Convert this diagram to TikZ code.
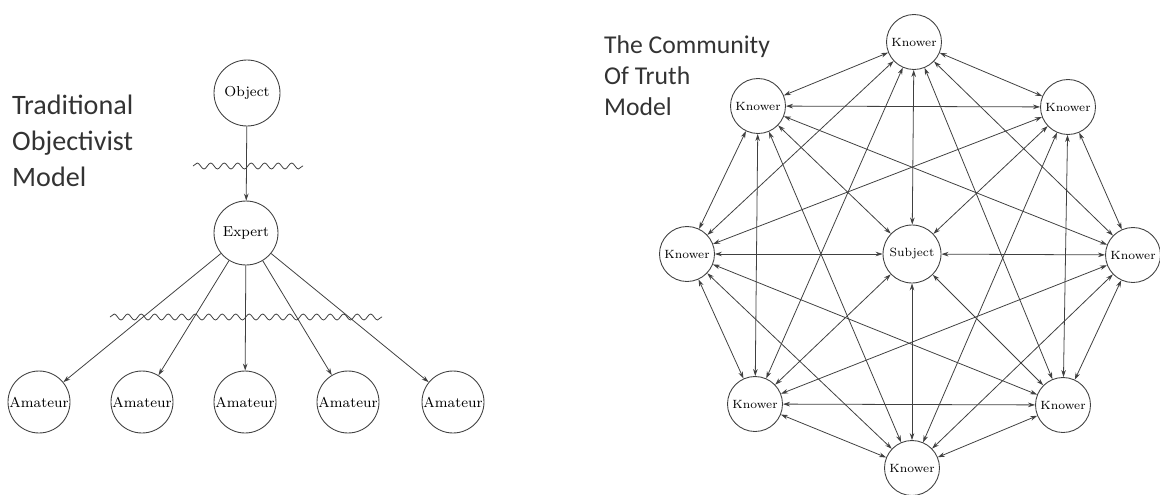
\documentclass[tikz,border=0pt]{standalone}
\usepackage{fontspec}
\newfontfamily\labelfont{Carlito}
\usetikzlibrary{arrows.meta,decorations.pathmorphing}

\tikzset{
  agent/.style={circle,draw=black!75,line width=0.5pt,inner sep=0pt,
    font=\fontsize{8.2}{9}\selectfont},
  knower/.style={agent,minimum size=1.1cm,font=\fontsize{6.8}{8}\selectfont},
  link/.style={draw=black!75,line width=0.45pt,-{Stealth[length=4pt,width=2.6pt]}},
  mutual/.style={link,{Stealth[length=4pt,width=2.6pt]}-{Stealth[length=4pt,width=2.6pt]}},
  wavy/.style={draw=black!75,line width=0.45pt,
    decorate,decoration={snake,segment length=0.27cm,amplitude=0.06cm}},
  title/.style={font=\labelfont\fontsize{16}{20.5}\selectfont,align=left,text=black!80}
}

\begin{document}
\begin{tikzpicture}[x=0.02cm,y=-0.02cm]

    \useasboundingbox (0,0) rectangle (1160,494);

    % traditional model
    \node[title,anchor=west] (tlabel) at (6,141) {Traditional\\Objectivist\\Model};

    \node[agent,minimum size=1.32cm] (object) at (247,93) {Object};
    \node[agent,minimum size=1.28cm] (expert) at (246,233) {Expert};
    \foreach \x [count=\i] in {39,142,245,348,453}
      \node[agent,minimum size=1.24cm] (am\i) at (\x,402) {Amateur};

    \draw[link] (object) -- (expert);
    \foreach \i in {1,...,5}
      \draw[link] (expert) -- (am\i);

    \draw[wavy] (193,166) -- (303,166);
    \draw[wavy] (110,317) -- (382,317);

    % community of truth
    \node[title,anchor=west,font=\labelfont\fontsize{14.6}{17.6}\selectfont] (clabel) at (598,76)
      {The Community\\Of Truth\\Model};

    \node[knower,minimum size=1.16cm] (s) at (912,254) {Subject};
    \node[knower] (k1) at (914,42) {Knower};
    \node[knower] (k2) at (1068,107) {Knower};
    \node[knower] (k3) at (1133,255) {Knower};
    \node[knower] (k4) at (1063,405) {Knower};
    \node[knower] (k5) at (912,468) {Knower};
    \node[knower] (k6) at (755,404) {Knower};
    \node[knower] (k7) at (687,254) {Knower};
    \node[knower] (k8) at (758,106) {Knower};

    \foreach \i [evaluate=\i as \n using int(\i+1)] in {1,...,7}
      \foreach \j in {\n,...,8} {
        \ifnum\numexpr\j-\i\relax=4 \else \draw[mutual] (k\i) -- (k\j); \fi
      }
    \foreach \i in {1,...,8}
      \draw[mutual] (s) -- (k\i);

  \end{tikzpicture}
\end{document}
